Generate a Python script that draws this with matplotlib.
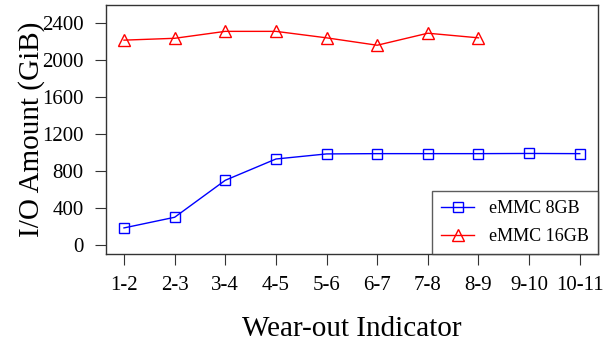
import matplotlib.pyplot as plt

plt.rcParams['font.family'] = ['Liberation Serif', 'DejaVu Serif']

# Data
intervals = ['1-2', '2-3', '3-4', '4-5', '5-6', '6-7', '7-8', '8-9', '9-10', '10-11']
emmc_8gb = [185, 300, 700, 930, 985, 988, 988, 988, 990, 988]
emmc_16gb = [2215, 2235, 2310, 2310, 2240, 2160, 2290, 2240]

fig = plt.figure(figsize=(6.12, 3.41), dpi=100)
ax = fig.add_axes([106 / 612, 1 - 254 / 341, 492 / 612, 249 / 341])

x8 = list(range(1, len(emmc_8gb) + 1))
x16 = list(range(1, len(emmc_16gb) + 1))
ax.plot(x8, emmc_8gb, color='blue', lw=1, marker='s', ms=7, mfc='none', mec='blue',
        mew=1, label='eMMC 8GB')
ax.plot(x16, emmc_16gb, color='red', lw=1, marker='^', ms=9, mfc='none', mec='red',
        mew=1, label='eMMC 16GB')

ax.set_xlim(0.645, 10.36)
ax.set_ylim(-97, 2595)
ax.set_xticks(range(1, len(intervals) + 1))
ax.set_xticklabels(intervals)
ax.set_yticks(range(0, 2401, 400))

for s in ax.spines.values():
    s.set_color('#333333')
    s.set_linewidth(1)
ax.tick_params(axis='both', length=8, width=0.8, color='#333333', labelsize=15,
               direction='out')
ax.tick_params(axis='x', pad=8)
ax.tick_params(axis='y', pad=8)

ax.set_xlabel('Wear-out Indicator', fontsize=21, labelpad=15)
ax.set_ylabel('I/O Amount (GiB)', fontsize=21, labelpad=-2)

leg = ax.legend(loc='lower right', bbox_to_anchor=(1.0, 0.0), fontsize=13,
                frameon=True, fancybox=False, borderaxespad=0, handlelength=1.8,
                labelspacing=0.6, handletextpad=0.85, borderpad=0.5)
leg.get_frame().set_edgecolor('#333333')
leg.get_frame().set_linewidth(1)

fig.savefig('out.png', dpi=100)
